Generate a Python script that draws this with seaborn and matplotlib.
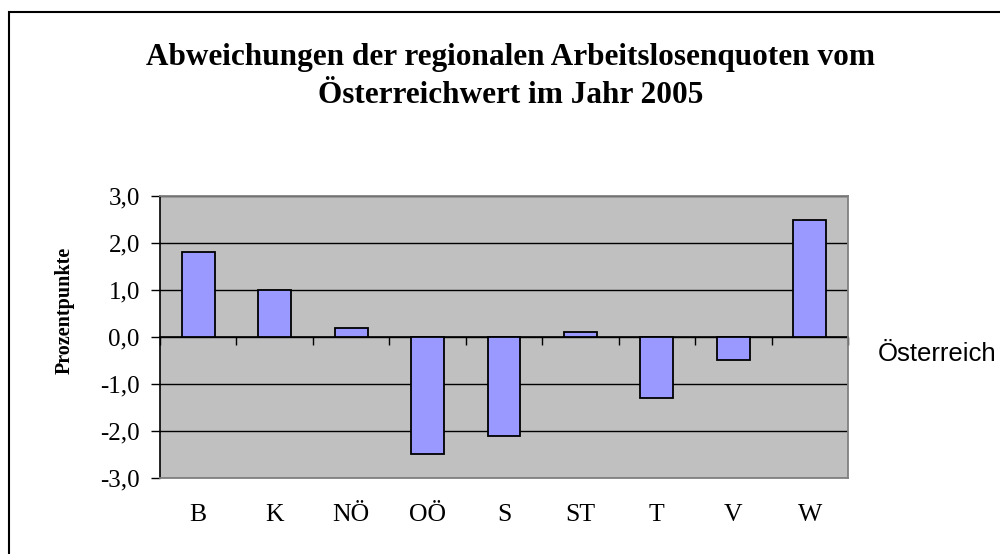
import numpy as np
import matplotlib
matplotlib.use("Agg")
import matplotlib.pyplot as plt
from matplotlib.patches import Rectangle
import seaborn as sns

regions = ["B", "K", "NÖ", "OÖ", "S", "ST", "T", "V", "W"]
deviation = [1.8, 1.0, 0.2, -2.5, -2.1, 0.1, -1.3, -0.5, 2.5]
y_ticks = [-3, -2, -1, 0, 1, 2, 3]
series_name = "Österreich"
title = "Abweichungen der regionalen Arbeitslosenquoten vom\nÖsterreichwert im Jahr 2005"
y_label = "Prozentpunkte"

BAR = "#9999FF"
PLOT_BG = "#C0C0C0"
BORDER = "#808080"


def main() -> None:
    plt.rcParams["font.family"] = ["Liberation Serif", "DejaVu Serif"]

    fig = plt.figure(figsize=(10, 5.54), dpi=100)
    ax = fig.add_axes([0.16, 0.1372, 0.688, 0.509])
    ax.set_facecolor(PLOT_BG)

    sns.barplot(x=regions, y=deviation, color=BAR, saturation=1, width=0.43,
                edgecolor="black", linewidth=1.3, label=series_name, ax=ax, zorder=3)

    ax.set_ylim(y_ticks[0], y_ticks[-1])
    ax.set_xlim(-0.5, len(regions) - 0.5)
    ax.set_yticks(y_ticks, labels=[f"{t:.1f}".replace(".", ",") for t in y_ticks])
    ax.yaxis.grid(True, color="black", linewidth=1)
    ax.set_axisbelow(True)
    ax.tick_params(axis="y", direction="out", length=6.5, width=1, color="black",
                   labelsize=18, pad=8)
    ax.tick_params(axis="x", length=0, labelsize=18.5, pad=19)
    ax.set_xlabel("")

    for side in ["top", "right", "bottom"]:
        ax.spines[side].set_color(BORDER)
        ax.spines[side].set_linewidth(1.3)
    ax.spines["left"].set_color("black")
    ax.spines["left"].set_linewidth(1.2)

    # category axis crossing at zero, ticks between the categories
    secax = ax.secondary_xaxis(0, transform=ax.transData)
    secax.set_xticks(np.arange(len(regions) + 1) - 0.5)
    secax.tick_params(direction="out", length=6, width=1, color="black", labelbottom=False)
    secax.spines["bottom"].set_color("black")
    secax.spines["bottom"].set_linewidth(1.2)

    ax.set_ylabel(y_label, fontsize=14.5, fontweight="bold")
    ax.yaxis.set_label_coords(-0.1235, 0.596)

    leg = ax.legend(loc="center left", bbox_to_anchor=(1.043, 0.44), frameon=False,
                    handlelength=0, handletextpad=0, borderpad=0, borderaxespad=0,
                    prop={"family": ["Liberation Sans", "DejaVu Sans"], "size": 18.5})
    for h in leg.legend_handles:
        h.set_visible(False)

    fig.text(0.511, 0.922, title, ha="center", va="top", fontsize=22.5,
             fontweight="bold", linespacing=1.4)

    fig.patches.append(Rectangle((0.009, -0.05), 1.1, 1 - 12 / 554 + 0.05,
                                 transform=fig.transFigure, fill=False,
                                 edgecolor="black", linewidth=1.5, clip_on=False))

    fig.savefig("out.png", dpi=100)


if __name__ == "__main__":
    main()
